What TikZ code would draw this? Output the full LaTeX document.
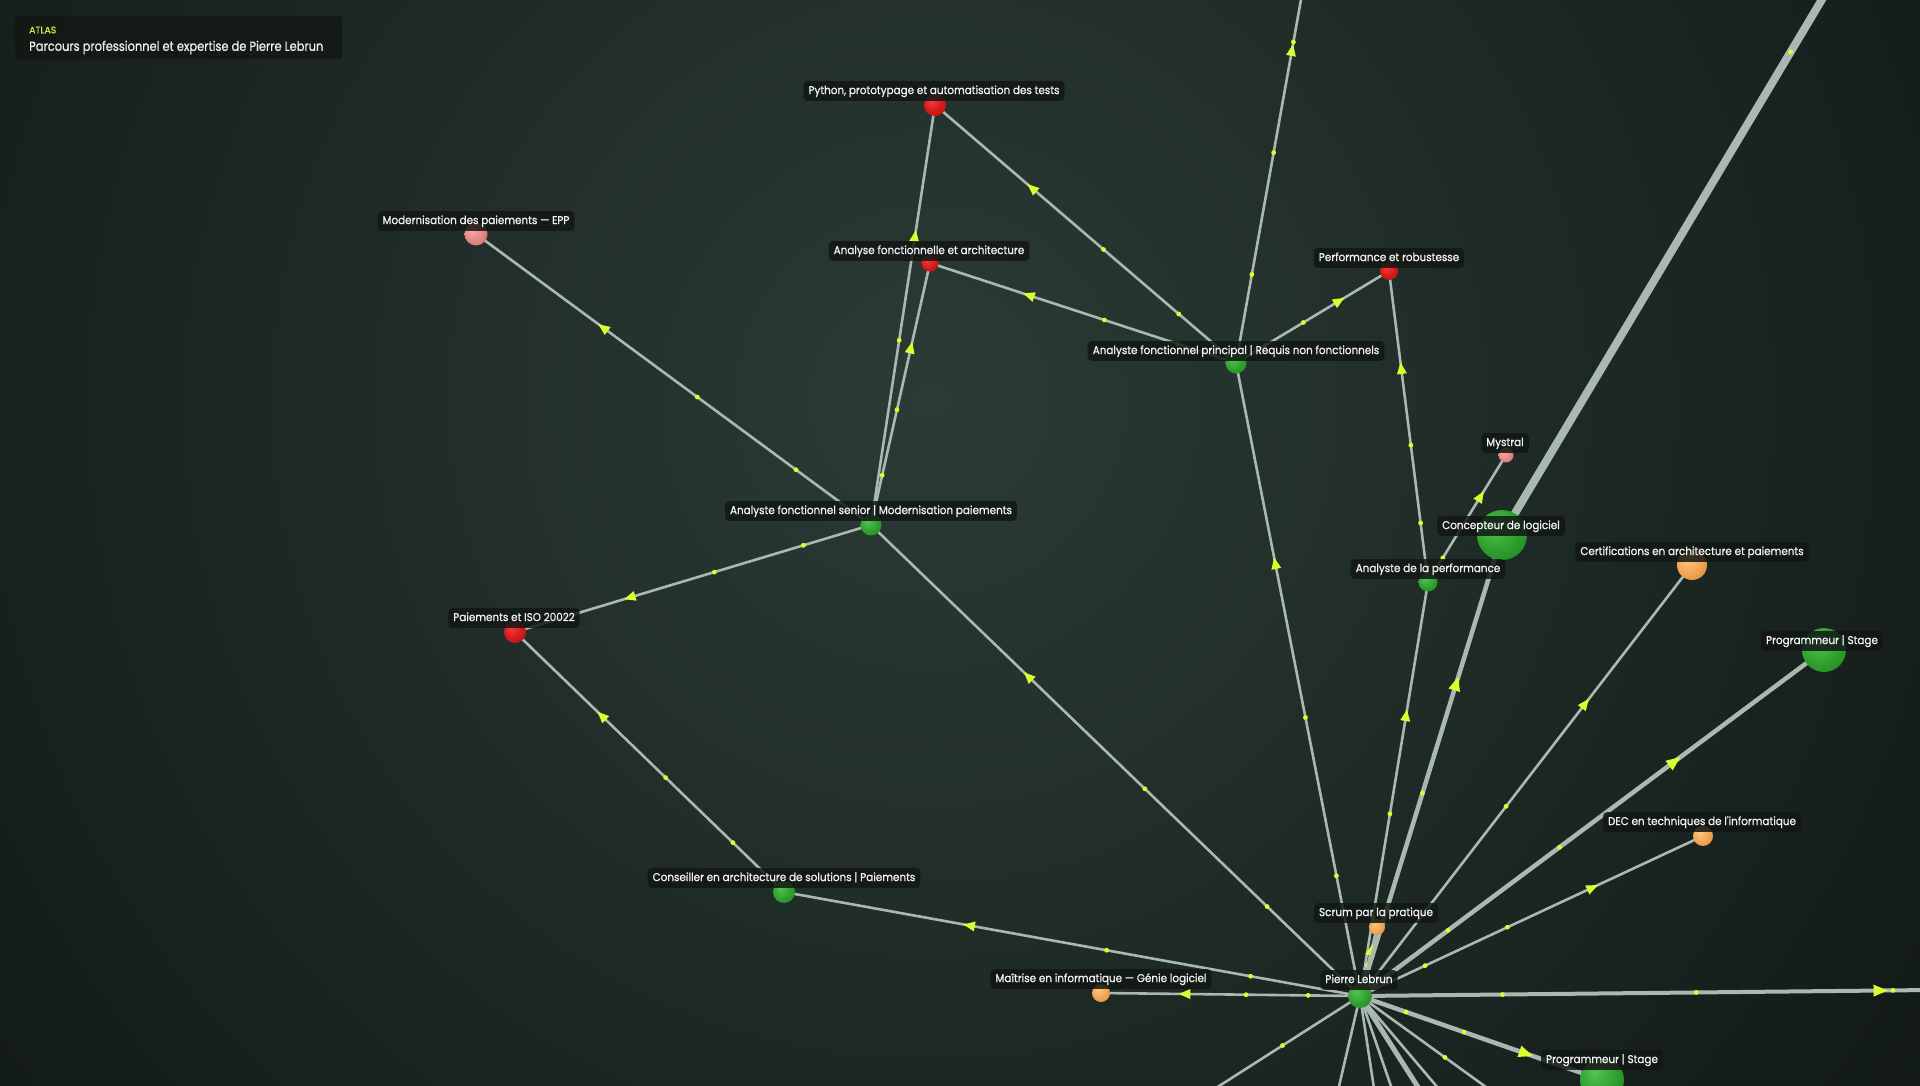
\documentclass[tikz,border=0pt]{standalone}
\usepackage{fontspec}
\setmainfont{Poppins}
\newfontfamily\lblfont{Poppins}[FakeStretch=0.92, FakeBold=0.9]
\newfontfamily\hdrfont{Poppins}[FakeStretch=0.86, FakeBold=0.8]
\newfontfamily\atlasfont{Poppins}[FakeBold=1.2]
\usetikzlibrary{decorations.markings}
\pgfdeclarelayer{bgl}\pgfdeclarelayer{edges}\pgfdeclarelayer{lbls}
\pgfsetlayers{bgl,edges,main,lbls}
\definecolor{bgC}{HTML}{2B3B35}
\definecolor{bgD}{HTML}{111815}
\definecolor{edgec}{HTML}{A9B8B0}
\definecolor{tipc}{HTML}{D9FF2E}
\definecolor{lblbg}{HTML}{121714}
\definecolor{lbltxt}{HTML}{F0F2F0}
\definecolor{atlasc}{HTML}{C6EC45}
\definecolor{gL}{HTML}{55C44F}\definecolor{gM}{HTML}{2E9E2E}\definecolor{gD}{HTML}{1C7A20}
\definecolor{rL}{HTML}{F23A3A}\definecolor{rM}{HTML}{D41818}\definecolor{rD}{HTML}{A01010}
\definecolor{oL}{HTML}{FFC580}\definecolor{oM}{HTML}{F0A352}\definecolor{oD}{HTML}{C07A30}
\definecolor{pL}{HTML}{F7ABAB}\definecolor{pM}{HTML}{E28484}\definecolor{pD}{HTML}{B86060}
\pgfdeclareradialshading{sphgreen}{\pgfpoint{-9bp}{9bp}}{color(0bp)=(gL); color(22bp)=(gM); color(45bp)=(gD); color(60bp)=(gD)}
\pgfdeclareradialshading{sphred}{\pgfpoint{-9bp}{9bp}}{color(0bp)=(rL); color(22bp)=(rM); color(45bp)=(rD); color(60bp)=(rD)}
\pgfdeclareradialshading{sphorange}{\pgfpoint{-9bp}{9bp}}{color(0bp)=(oL); color(22bp)=(oM); color(45bp)=(oD); color(60bp)=(oD)}
\pgfdeclareradialshading{sphpink}{\pgfpoint{-9bp}{9bp}}{color(0bp)=(pL); color(22bp)=(pM); color(45bp)=(pD); color(60bp)=(pD)}
\newcommand\mytip{\fill[tipc] (5pt,0) -- (-6.5pt,5pt) -- (-6.5pt,-5pt) -- cycle;}
\newcommand\mybigtip{\fill[tipc] (6pt,0) -- (-8pt,6pt) -- (-8pt,-6pt) -- cycle;}
\tikzset{
  edge/.style={draw=edgec, line width=2.6pt},
  arr/.style={postaction={decorate, decoration={markings, mark=at position #1 with {\mytip}}}},
  arrbig/.style={postaction={decorate, decoration={markings, mark=at position #1 with {\mybigtip}}}},
  pdot/.style={postaction={decorate, decoration={markings, mark=at position #1 with {\fill[tipc] (0,0) circle (2.4pt);}}}},
  sph/.style={circle, inner sep=0pt, shade},
  lbl/.style={fill=lblbg, fill opacity=0.85, text opacity=1, text=lbltxt, rounded corners=4pt,
    inner xsep=5pt, inner ysep=4.5pt, font=\lblfont\fontsize{11.3}{13}\selectfont,
    text height=8.5pt, text depth=2.4pt, yshift=-2pt},
}
\begin{document}
\begin{tikzpicture}[x=1pt, y=-1pt]
\useasboundingbox (0,0) rectangle (1920,1085);
\begin{pgfonlayer}{bgl}
\fill[bgD] (0,0) rectangle (1920,1085);
\begin{scope}
\clip (0,0) rectangle (1920,1085);
\shade[inner color=bgC, outer color=bgD] (930,400) circle (1250);
\end{scope}
\end{pgfonlayer}

% spheres
\node[sph, shading=sphgreen, minimum size=24pt] (pierre) at (1360,996) {};
\node[sph, shading=sphorange, minimum size=16pt] (scrum) at (1377,927) {};
\node[sph, shading=sphorange, minimum size=18pt] (maitrise) at (1101,993) {};
\node[sph, shading=sphgreen, minimum size=22pt] (conseiller) at (784,892) {};
\node[sph, shading=sphred, minimum size=22pt] (iso) at (515,632) {};
\node[sph, shading=sphgreen, minimum size=21pt] (senior) at (871,525) {};
\node[sph, shading=sphpink, minimum size=23pt] (epp) at (476,234) {};
\node[sph, shading=sphred, minimum size=17pt] (archi) at (930,263) {};
\node[sph, shading=sphred, minimum size=22pt] (python) at (935,105) {};
\node[sph, shading=sphgreen, minimum size=21pt] (principal) at (1236,363) {};
\node[sph, shading=sphred, minimum size=18pt] (perf) at (1389,271) {};
\node[sph, shading=sphpink, minimum size=15pt] (mystral) at (1506,455) {};
\node[sph, shading=sphgreen, minimum size=50pt] (concepteur) at (1502,535) {};
\node[sph, shading=sphgreen, minimum size=19pt] (analperf) at (1428,582) {};
\node[sph, shading=sphorange, minimum size=30pt] (certif) at (1692,565) {};
\node[sph, shading=sphgreen, minimum size=44pt] (progr) at (1824,650) {};
\node[sph, shading=sphorange, minimum size=20pt] (dec) at (1703,836) {};
\node[sph, shading=sphgreen, minimum size=44pt] (progb) at (1602,1080) {};

% off-screen ends
\coordinate (offA) at (1302,-6);
\coordinate (offB) at (1830,-14);
\coordinate (offC) at (1930,990);
\coordinate (offD) at (1205,1095);
\coordinate (offE) at (1337,1095);
\coordinate (offF) at (1375,1095);
\coordinate (offG) at (1394,1095);
\coordinate (offH) at (1423,1095);
\coordinate (offI) at (1444,1095);
\coordinate (offJ) at (1497,1095);

\begin{pgfonlayer}{edges}
\draw[edge, arr=0.68, pdot=0.19, pdot=0.44] (senior.center) -- (epp.center);
\draw[edge, arr=0.68, pdot=0.19, pdot=0.44] (senior.center) -- (iso.center);
\draw[edge, arr=0.68, pdot=0.19, pdot=0.44] (conseiller.center) -- (iso.center);
\draw[edge, arr=0.68, pdot=0.19, pdot=0.44] (pierre.center) -- (conseiller.center);
\draw[edge, arr=0.68, pdot=0.2, pdot=0.44] (pierre.center) -- (maitrise.center);
\draw[edge, arr=0.68, pdot=0.19, pdot=0.44] (pierre.center) -- (senior.center);
\draw[edge, arr=0.69, pdot=0.44] (senior.center) -- (python.center);
\draw[edge, arr=0.68, pdot=0.19, pdot=0.44] (senior.center) -- (archi.center);
\draw[edge, arr=0.68, pdot=0.19, pdot=0.44] (principal.center) -- (python.center);
\draw[edge, arr=0.68, pdot=0.19, pdot=0.43] (principal.center) -- (archi.center);
\draw[edge, arr=0.85, pdot=0.24, pdot=0.57, pdot=0.87] (principal.center) -- (offA);
\draw[edge, arr=0.68, pdot=0.19, pdot=0.44] (principal.center) -- (perf.center);
\draw[edge, arr=0.69, pdot=0.19, pdot=0.44] (analperf.center) -- (perf.center);
\draw[edge, arr=0.68, pdot=0.19] (analperf.center) -- (mystral.center);
\draw[edge, arr=0.68, pdot=0.19, pdot=0.44] (pierre.center) -- (analperf.center);
\draw[edge, arr=0.685, pdot=0.19, pdot=0.44] (pierre.center) -- (principal.center);
\draw[edge, arr=0.68, pdot=0.44] (pierre.center) -- (scrum.center);
\draw[edge, line width=4.5pt, arrbig=0.68, pdot=0.19, pdot=0.44] (pierre.center) -- (concepteur.center);
\draw[edge, line width=8pt, pdot=0.88] (concepteur.center) -- (offB);
\draw[edge, arr=0.68, pdot=0.19, pdot=0.44] (pierre.center) -- (certif.center);
\draw[edge, line width=4.5pt, arrbig=0.68, pdot=0.19, pdot=0.43] (pierre.center) -- (progr.center);
\draw[edge, arr=0.68, pdot=0.19, pdot=0.43] (pierre.center) -- (dec.center);
\draw[edge, line width=4pt, arrbig=0.915, pdot=0.25, pdot=0.59, pdot=0.935] (pierre.center) -- (offC);
\draw[edge, line width=4.5pt, arrbig=0.69, pdot=0.19, pdot=0.43] (pierre.center) -- (progb.center);
\draw[edge, pdot=0.5] (pierre.center) -- (offD);
\draw[edge] (pierre.center) -- (offE);
\draw[edge] (pierre.center) -- (offF);
\draw[edge] (pierre.center) -- (offG);
\draw[edge, line width=5pt] (pierre.center) -- (offH);
\draw[edge] (pierre.center) -- (offI);
\draw[edge, pdot=0.62] (pierre.center) -- (offJ);
\end{pgfonlayer}

\begin{pgfonlayer}{lbls}
\node[lbl] (l-pierre) at (1359,978) {Pierre Lebrun};
\node[lbl] (l-scrum) at (1376,911) {Scrum par la pratique};
\node[lbl] (l-maitrise) at (1101,977) {Maîtrise en informatique — Génie logiciel};
\node[lbl] (l-conseiller) at (784,876) {Conseiller en architecture de solutions | Paiements};
\node[lbl] (l-iso) at (514,616) {Paiements et ISO 20022};
\node[lbl] (l-senior) at (871,509) {Analyste fonctionnel senior | Modernisation paiements};
\node[lbl] (l-epp) at (476,219) {Modernisation des paiements — EPP};
\node[lbl] (l-archi) at (929,249) {Analyse fonctionnelle et architecture};
\node[lbl] (l-python) at (934,89) {Python, prototypage et automatisation des tests};
\node[lbl] (l-principal) at (1236,349) {Analyste fonctionnel principal | Requis non fonctionnels};
\node[lbl] (l-perf) at (1389,256) {Performance et robustesse};
\node[lbl] (l-mystral) at (1505,441) {Mystral};
\node[lbl] (l-concepteur) at (1501,524) {Concepteur de logiciel};
\node[lbl] (l-analperf) at (1428,567) {Analyste de la performance};
\node[lbl] (l-certif) at (1692,550) {Certifications en architecture et paiements};
\node[lbl] (l-progr) at (1822,639) {Programmeur | Stage};
\node[lbl] (l-dec) at (1702,820) {DEC en techniques de l'informatique};
\node[lbl] (l-progb) at (1602,1058) {Programmeur | Stage};

\node[fill=lblbg, fill opacity=0.8, rounded corners=2pt, minimum width=327pt, minimum height=43pt, anchor=north west, inner sep=0pt] (header) at (15,16) {};
\node[anchor=west, inner sep=0pt, text=atlasc, font=\atlasfont\fontsize{9.3}{10}\selectfont] (h-atlas) at (29,30) {ATLAS};
\node[anchor=west, inner sep=0pt, text=lbltxt, font=\hdrfont\fontsize{13.3}{15}\selectfont] (h-title) at (29,47.5) {Parcours professionnel et expertise de Pierre Lebrun};
\end{pgfonlayer}
\end{tikzpicture}
\end{document}
